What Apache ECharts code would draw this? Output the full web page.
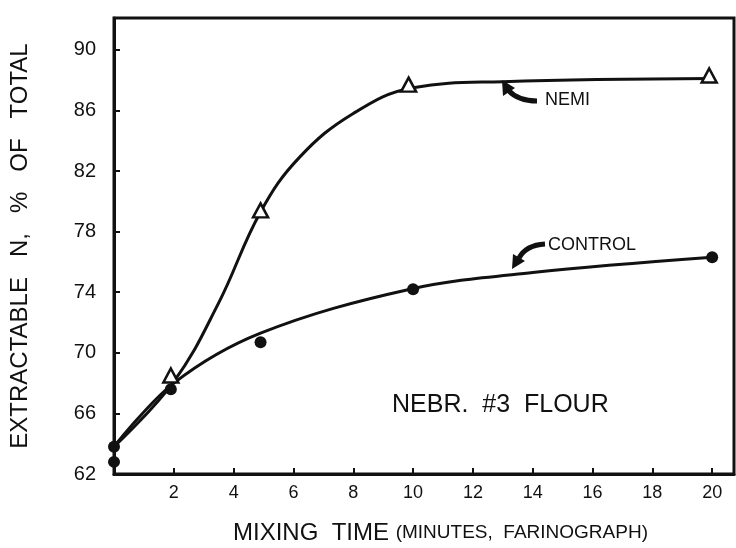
<!DOCTYPE html>
<html>
<head>
<meta charset="utf-8">
<script src="https://cdn.jsdelivr.net/npm/echarts@6/dist/echarts.min.js"></script>
<style>
  html, body { margin: 0; padding: 0; background: #fff; }
  #chart { width: 736px; height: 548px; }
</style>
</head>
<body>
<div id="chart"></div>
<script>
// 刻度
const xTicks = [2, 4, 6, 8, 10, 12, 14, 16, 18, 20]
const yTicks = [62, 66, 70, 74, 78, 82, 86, 90]

// 测量点 (x = 分钟, y = %)
const nemiPoints = [[1.9, 68.5], [4.9, 79.4], [9.85, 87.7], [19.9, 88.3]]
const controlPoints = [[0, 62.8], [0, 63.8], [1.9, 67.6], [4.9, 70.7], [10, 74.2], [20, 76.3]]

// 手绘曲线
const nemiCurve = [[0, 63.8], [2, 68.1], [3.5, 73.3], [4.9, 79.3],
  [6.2, 82.9], [8, 85.8], [10, 87.5], [13, 87.9], [20, 88.1]]
const controlCurve = [[0, 63.8], [2, 68.0], [4.9, 71.3],
  [9.9, 74.2], [14, 75.3], [20, 76.3]]

const font = "'Liberation Sans', Arial, sans-serif"
const ink = '#111'

let myChart = echarts.init(document.getElementById('chart'))
myChart.setOption({
  backgroundColor: '#fff',
  animation: false,
  grid: {
    left: 113, right: 2, top: 18, bottom: 74,
    show: true,
    borderColor: ink,
    borderWidth: 3
  },
  xAxis: {
    type: 'value',
    min: 0,
    max: 20.73,
    interval: 2,
    splitLine: { show: false },
    axisLine: { lineStyle: { color: ink, width: 3 } },
    axisTick: {
      inside: true, length: 6,
      customValues: xTicks,
      lineStyle: { color: ink, width: 2 }
    },
    axisLabel: {
      customValues: xTicks,
      margin: 10,
      fontFamily: font,
      fontSize: 18,
      color: ink
    }
  },
  yAxis: {
    type: 'value',
    min: 62,
    max: 92.1,
    interval: 4,
    name: 'EXTRACTABLE   N,   %   OF   TOTAL',
    nameLocation: 'middle',
    nameRotate: 90,
    nameGap: 82,
    nameTextStyle: { fontFamily: font, fontSize: 24, color: ink },
    splitLine: { show: false },
    axisLine: { lineStyle: { color: ink, width: 3 } },
    axisTick: {
      inside: true, length: 6,
      customValues: yTicks,
      lineStyle: { color: ink, width: 2 }
    },
    axisLabel: {
      customValues: yTicks,
      margin: 18,
      fontFamily: font,
      fontSize: 20,
      color: ink
    }
  },
  series: [
    {
      name: 'NEMI curve',
      type: 'line',
      data: nemiCurve,
      smooth: 0.4,
      showSymbol: false,
      lineStyle: { color: ink, width: 3 },
      z: 2
    },
    {
      name: 'CONTROL curve',
      type: 'line',
      data: controlCurve,
      smooth: 0.35,
      showSymbol: false,
      lineStyle: { color: ink, width: 3 },
      z: 2
    },
    {
      name: 'NEMI',
      type: 'scatter',
      data: nemiPoints,
      symbol: 'triangle',
      symbolSize: [15, 14],
      itemStyle: { color: '#fff', borderColor: ink, borderWidth: 2.5, opacity: 1 },
      z: 3
    },
    {
      name: 'CONTROL',
      type: 'scatter',
      data: controlPoints,
      symbol: 'circle',
      symbolSize: 12,
      itemStyle: { color: ink, opacity: 1 },
      z: 3
    }
  ],
  graphic: [
    // x 轴标题
    {
      type: 'text',
      left: 233,
      top: 521,
      style: {
        text: '{a|MIXING  TIME}  {b|(MINUTES,  FARINOGRAPH)}',
        rich: {
          a: { fontFamily: font, fontSize: 24, fill: ink },
          b: { fontFamily: font, fontSize: 19, fill: ink }
        }
      }
    },
    // 注释
    {
      type: 'text', left: 392, top: 393,
      style: { text: 'NEBR.  #3  FLOUR', fontFamily: font, fontSize: 25, fill: ink }
    },
    {
      type: 'text', left: 545, top: 91,
      style: { text: 'NEMI', fontFamily: font, fontSize: 18, fill: ink }
    },
    {
      type: 'text', left: 548, top: 236,
      style: { text: 'CONTROL', fontFamily: font, fontSize: 18, fill: ink }
    },
    // 箭头
    {
      type: 'bezierCurve',
      shape: { x1: 537, y1: 101, x2: 508, y2: 90, cpx1: 518, cpy1: 101 },
      style: { stroke: ink, lineWidth: 5, fill: null }
    },
    {
      type: 'polygon',
      shape: { points: [[502, 80], [515, 88], [503, 96]] },
      style: { fill: ink }
    },
    {
      type: 'bezierCurve',
      shape: { x1: 545, y1: 244, x2: 519, y2: 258, cpx1: 526, cpy1: 245 },
      style: { stroke: ink, lineWidth: 5, fill: null }
    },
    {
      type: 'polygon',
      shape: { points: [[512, 269], [525, 261], [513, 254]] },
      style: { fill: ink }
    }
  ]
})
</script>
</body>
</html>
